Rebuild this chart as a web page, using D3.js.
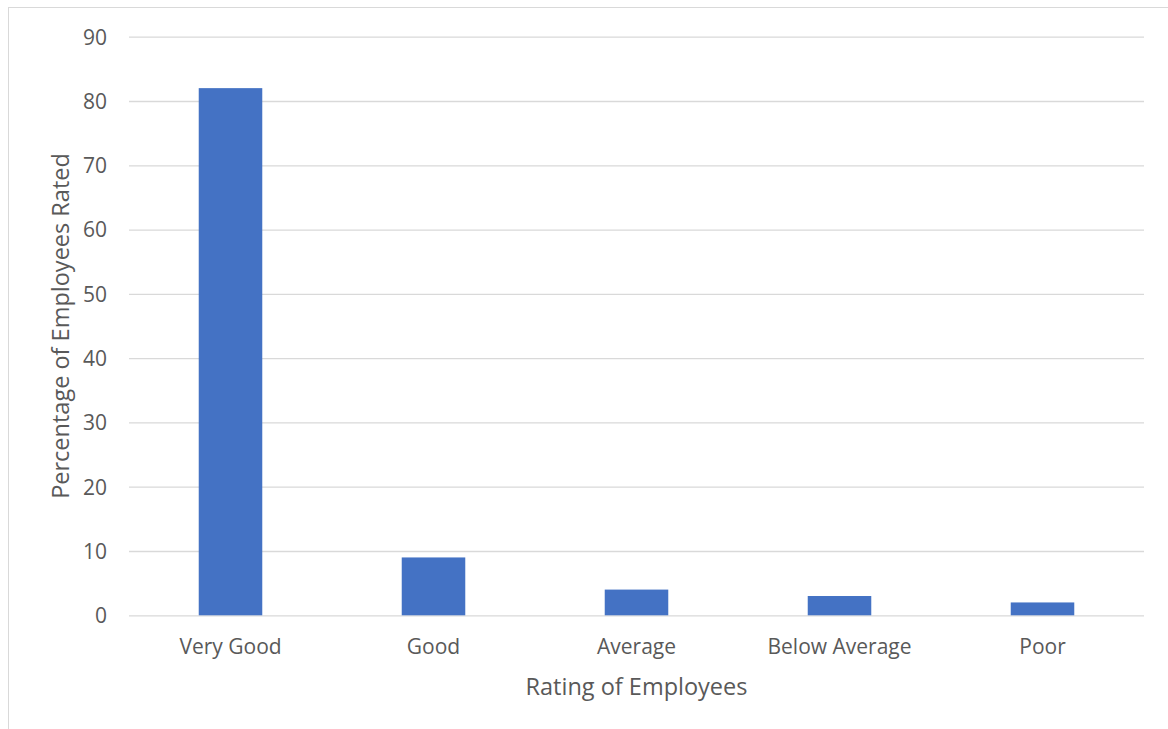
<!DOCTYPE html>
<html><head><meta charset="utf-8">
<script src="https://cdn.jsdelivr.net/npm/d3@7"></script>
<style>
html,body{margin:0;padding:0;background:#fff;}
svg{display:block;}
text{font-family:"Open Sans","Liberation Sans",sans-serif;fill:#595959;}
</style></head>
<body><svg id="chart" width="1168" height="729"></svg>
<script>
const categories = ["Very Good","Good","Average","Below Average","Poor"];
const values = [82, 9, 4, 3, 2];
const yTicks = [0,10,20,30,40,50,60,70,80,90];
const xTitle = "Rating of Employees";
const yTitle = "Percentage of Employees Rated";

const svg = d3.select("#chart");
const W = 1168, H = 729;
const plot = {left:129, right:1144, top:36.7, bottom:615.3};

// chart border (cropped at right/bottom)
svg.append("rect").attr("x",8.5).attr("y",7.5).attr("width",W+20).attr("height",H+20)
  .attr("fill","#fff").attr("stroke","#d9d9d9").attr("stroke-width",1);

const x = d3.scaleBand().domain(categories).range([plot.left, plot.right])
  .paddingInner(0.687).paddingOuter(0.3435);
const y = d3.scaleLinear().domain([0,90]).range([plot.bottom, plot.top]);

// gridlines
const yAxis = d3.axisLeft(y).tickValues(yTicks).tickSize(-(plot.right-plot.left)).tickPadding(22);
const gy = svg.append("g").attr("transform",`translate(${plot.left},0)`).call(yAxis);
gy.select(".domain").remove();
gy.selectAll(".tick line").attr("stroke","#d9d9d9").attr("stroke-width",1.3);
gy.selectAll(".tick text").attr("font-size","21px").attr("fill","#595959").attr("dy","0.35em");

// bars
svg.append("g").selectAll("rect").data(values).join("rect")
  .attr("x",(d,i)=>x(categories[i]))
  .attr("y",d=>y(d))
  .attr("width",x.bandwidth())
  .attr("height",d=>y(0)-y(d))
  .attr("fill","#4472c4");

// x axis labels
const xAxis = d3.axisBottom(x).tickSize(0).tickPadding(22);
const gx = svg.append("g").attr("transform",`translate(0,${plot.bottom})`).call(xAxis);
gx.select(".domain").remove();
gx.selectAll(".tick text").attr("font-size","21px").attr("fill","#595959").attr("dy","0.35em").attr("y",31);

// titles
svg.append("text").attr("x",636.5).attr("y",687).attr("dy","0.35em")
  .attr("text-anchor","middle").attr("font-size","23.5px").text(xTitle);
svg.append("text").attr("transform",`translate(61,${(plot.top+plot.bottom)/2}) rotate(-90)`)
  .attr("dy","0.35em").attr("text-anchor","middle").attr("font-size","23.5px").text(yTitle);
</script></body></html>
